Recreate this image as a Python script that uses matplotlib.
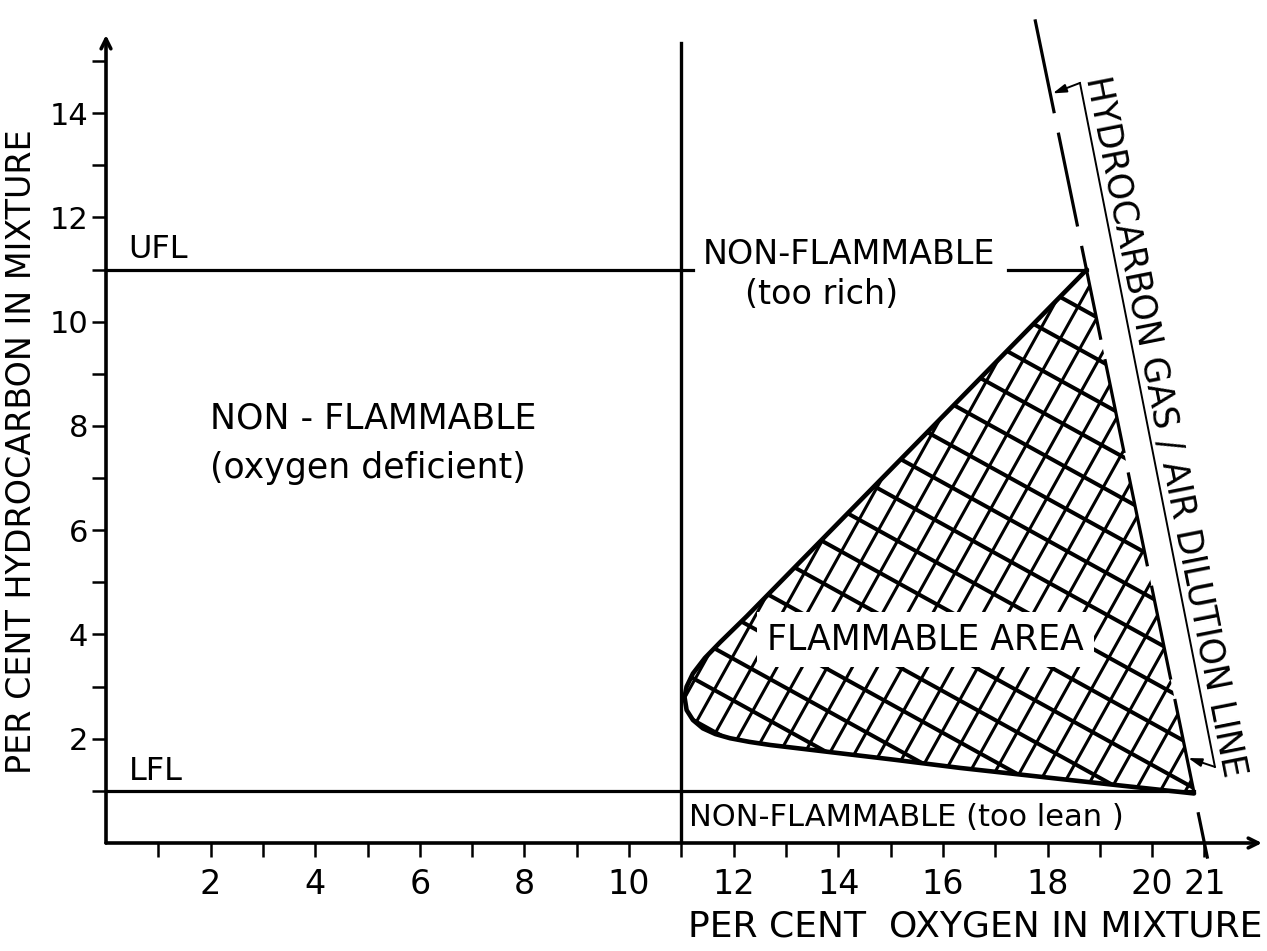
import numpy as np
import matplotlib
matplotlib.use("Agg")
import matplotlib.pyplot as plt
from matplotlib.patches import Polygon
from matplotlib.collections import LineCollection

plt.rcParams['font.family'] = ['DejaVu Sans']

# flammability limits (per cent hydrocarbon) and oxygen limit (per cent oxygen)
ufl = 11.0
lfl = 1.0
o2_limit = 11.0

# flammable area boundary, apex -> nose -> lean end (O2 %, HC %)
area_o2 = [18.75, 12.25, 11.74, 11.45, 11.22, 11.10, 11.06, 11.10, 11.22, 11.41,
           11.65, 11.93, 12.30, 12.70, 13.79, 15.05, 16.33, 18.50, 20.80]
area_hc = [11.00, 4.35, 3.85, 3.55, 3.25, 3.00, 2.80, 2.55, 2.36, 2.20,
           2.09, 2.01, 1.94, 1.88, 1.75, 1.60, 1.44, 1.20, 0.95]

# hydrocarbon gas / air dilution line
dil_o2 = [17.76, 21.06]
dil_hc = [15.80, -0.30]

# leader line of the dilution label and its arrow tips
lead_o2 = [18.62, 21.20]
lead_hc = [14.58, 1.46]
tip_o2 = [18.10, 20.69]
tip_hc = [14.38, 1.63]

# pieces of the limit lines
ufl_left = [0, 11.22]
ufl_right = [17.25, 18.75]
lfl_x = [0, 20.80]
o2_line_hc = [0, 15.35]

x_major = [2, 4, 6, 8, 10, 12, 14, 16, 18, 20, 21]
x_minor = [1, 3, 5, 7, 9, 11, 13, 15, 17, 19]
y_major = [2, 4, 6, 8, 10, 12, 14]
y_minor = [1, 3, 5, 7, 9, 11, 13, 15]

fig = plt.figure(figsize=(12.67, 9.51), dpi=100)
ax = fig.add_axes([106/1267, 108/951, 1156/1267, 808/951])
ax.set_xlim(0, 22.1)
ax.set_ylim(0, 15.5)
for s in ax.spines.values():
    s.set_visible(False)

# axes with open arrow heads
arrow = dict(arrowstyle='->,head_length=0.7,head_width=0.35', lw=2.6, color='k',
             shrinkA=0, shrinkB=0)
ax.annotate('', xy=(22.1, 0), xytext=(0, 0), arrowprops=arrow, annotation_clip=False)
ax.annotate('', xy=(0, 15.5), xytext=(0, 0), arrowprops=arrow, annotation_clip=False)

ax.set_xticks(x_major)
ax.set_xticks(x_minor, minor=True)
ax.set_yticks(y_major)
ax.set_yticks(y_minor, minor=True)
ax.tick_params(which='both', direction='out', length=10, width=1.8, top=False, right=False)
ax.tick_params(axis='x', labelsize=24, pad=8)
ax.tick_params(axis='y', labelsize=22, pad=3)

# limit lines
ax.plot(ufl_left, [ufl, ufl], 'k', lw=2.3, clip_on=False)
ax.plot(ufl_right, [ufl, ufl], 'k', lw=2.3)
ax.plot(lfl_x, [lfl, lfl], 'k', lw=2.3, clip_on=False)
ax.plot([o2_limit, o2_limit], o2_line_hc, 'k', lw=2.4)

# cross hatching of the flammable area
patch = Polygon(np.column_stack([area_o2, area_hc]), closed=True, fill=False, lw=0)
ax.add_patch(patch)


def hatch_lines(angle, spacing, center=(16.0, 6.0), radius=9.0):
    t = np.radians(angle)
    d = np.array([np.cos(t), np.sin(t)])
    n = np.array([-np.sin(t), np.cos(t)])
    c = np.array(center)
    segs = []
    for k in np.arange(-radius, radius + spacing, spacing):
        p = c + k * n
        segs.append([p - radius * d, p + radius * d])
    return segs


for angle, spacing, lw in [(-29, 0.70, 2.9), (61, 0.42, 2.2)]:
    lc = LineCollection(hatch_lines(angle, spacing), colors='k', linewidths=lw)
    lc.set_clip_path(patch)
    ax.add_collection(lc)

ax.plot(area_o2, area_hc, 'k', lw=3.3, solid_joinstyle='round', solid_capstyle='round')

# dilution line and its label
ax.plot(dil_o2, dil_hc, color='k', lw=2.3, linestyle=(0, (30, 6.2)), clip_on=False)
ax.plot(lead_o2, lead_hc, 'k', lw=1.4)
small = dict(arrowstyle='-|>,head_length=0.8,head_width=0.25', lw=1.4, color='k',
             shrinkA=0, shrinkB=0)
for i in range(2):
    ax.annotate('', xy=(tip_o2[i], tip_hc[i]), xytext=(lead_o2[i], lead_hc[i]),
                arrowprops=small)

p0 = ax.transData.transform((lead_o2[0], lead_hc[0]))
p1 = ax.transData.transform((lead_o2[1], lead_hc[1]))
rot = np.degrees(np.arctan2(p1[1] - p0[1], p1[0] - p0[0]))
ax.text(20.25, 8.0, 'HYDROCARBON GAS / AIR DILUTION LINE', fontsize=25,
        rotation=rot, rotation_mode='anchor', ha='center', va='center')

# region texts
ax.text(12.64, 3.9, 'FLAMMABLE AREA', fontsize=25, ha='left', va='center', zorder=5,
        bbox=dict(boxstyle='square,pad=0.3', fc='w', ec='none'))
ax.text(1.99, 8.15, 'NON - FLAMMABLE', fontsize=25, ha='left', va='center')
ax.text(1.99, 7.2, '(oxygen deficient)', fontsize=25, ha='left', va='center')
ax.text(11.41, 11.29, 'NON-FLAMMABLE', fontsize=24, ha='left', va='center')
ax.text(12.21, 10.52, '(too rich)', fontsize=24, ha='left', va='center')
ax.text(11.15, 0.48, 'NON-FLAMMABLE (too lean )', fontsize=22, ha='left', va='center')
ax.text(0.42, 11.39, 'UFL', fontsize=23, ha='left', va='center')
ax.text(0.44, 1.38, 'LFL', fontsize=23, ha='left', va='center')

# axis titles
ax.text(-1.62, 7.5, 'PER CENT HYDROCARBON IN MIXTURE', fontsize=24, rotation=90,
        ha='center', va='center')
ax.text(22.1, -1.61, 'PER CENT  OXYGEN IN MIXTURE', fontsize=26, ha='right', va='center')

fig.savefig('out.png', dpi=100)
